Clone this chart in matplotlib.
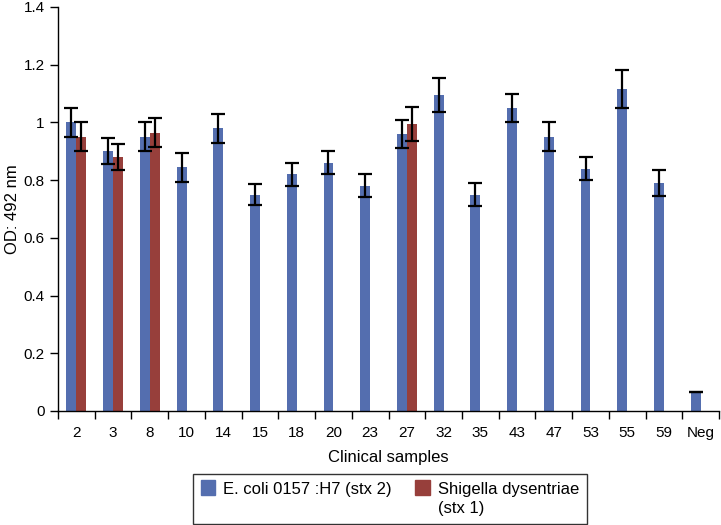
import matplotlib
matplotlib.use("Agg")
import matplotlib.pyplot as plt
from matplotlib.legend_handler import HandlerPatch
from matplotlib.patches import Rectangle
import numpy as np

plt.rcParams['font.family'] = ['Liberation Sans', 'DejaVu Sans']

categories = ["2", "3", "8", "10", "14", "15", "18", "20", "23", "27", "32", "35", "43", "47", "53", "55", "59", "Neg"]
ecoli = [1.0, 0.90, 0.95, 0.845, 0.98, 0.75, 0.82, 0.86, 0.78, 0.96, 1.095, 0.75, 1.05, 0.95, 0.84, 1.115, 0.79, 0.065]
ecoli_err = [0.05, 0.045, 0.05, 0.05, 0.05, 0.035, 0.04, 0.04, 0.04, 0.05, 0.06, 0.04, 0.05, 0.05, 0.04, 0.065, 0.045, 0.0]
shig_cats = ["2", "3", "8", "27"]
shig = [0.95, 0.88, 0.965, 0.995]
shig_err = [0.05, 0.045, 0.05, 0.06]
yticks = [0, 0.2, 0.4, 0.6, 0.8, 1.0, 1.2, 1.4]
ytick_labels = ["0", "0.2", "0.4", "0.6", "0.8", "1", "1.2", "1.4"]

blue = '#546EAF'
red = '#973F3B'

fig = plt.figure(figsize=(7.21, 5.25), dpi=100)
ax = fig.add_axes([58/721, (525-411)/525, (719-58)/721, (411-7)/525])

x = np.arange(len(categories)) + 0.5
w = 0.27
ax.bar(x - w/2, ecoli, width=w, color=blue, zorder=2)
ax.errorbar(x - w/2, ecoli, yerr=ecoli_err, fmt='none', ecolor='black', elinewidth=1.6, capsize=5, capthick=1.6, zorder=3)
sx = np.array([categories.index(c) for c in shig_cats]) + 0.5
ax.bar(sx + w/2, shig, width=w, color=red, zorder=2)
ax.errorbar(sx + w/2, shig, yerr=shig_err, fmt='none', ecolor='black', elinewidth=1.6, capsize=5, capthick=1.6, zorder=3)

ax.set_xlim(0, len(categories))
ax.set_ylim(0, 1.4)
ax.set_yticks(yticks)
ax.set_yticklabels(ytick_labels, fontsize=11)
ax.set_xticks(np.arange(len(categories) + 1))
ax.set_xticklabels([])
ax.set_xticks(x, minor=True)
ax.set_xticklabels(categories, minor=True, fontsize=11)
ax.tick_params(axis='x', which='major', direction='out', length=6, width=1)
ax.tick_params(axis='x', which='minor', length=0, pad=11)
ax.tick_params(axis='y', direction='out', length=6, width=1)
for s in ['top', 'right']:
    ax.spines[s].set_visible(False)
for s in ['left', 'bottom']:
    ax.spines[s].set_linewidth(1)
ax.set_ylabel("OD: 492 nm", fontsize=12, labelpad=3)
ax.set_xlabel("Clinical samples", fontsize=12, labelpad=7)


def top_patch(legend, orig_handle, xdescent, ydescent, width, height, fontsize):
    return Rectangle((-xdescent, -ydescent + 0.72 * fontsize), width, height)


h = [Rectangle((0, 0), 1, 1, color=blue), Rectangle((0, 0), 1, 1, color=red)]
l = ["E. coli 0157 :H7 (stx 2)\n ", "Shigella dysentriae\n(stx 1)"]
hm = {Rectangle: HandlerPatch(patch_func=top_patch)}
leg = fig.legend(h, l, loc='lower center', bbox_to_anchor=(390/721, 1/525), ncol=2, fontsize=12,
                 frameon=True, fancybox=False, edgecolor='black', handlelength=0.85, handleheight=1.0,
                 handletextpad=0.5, columnspacing=1.4, borderpad=0.45, borderaxespad=0, handler_map=hm)
for t in leg.get_texts():
    t.set_linespacing(1.4)
leg.get_frame().set_linewidth(1)

fig.savefig("out.png", dpi=100)
